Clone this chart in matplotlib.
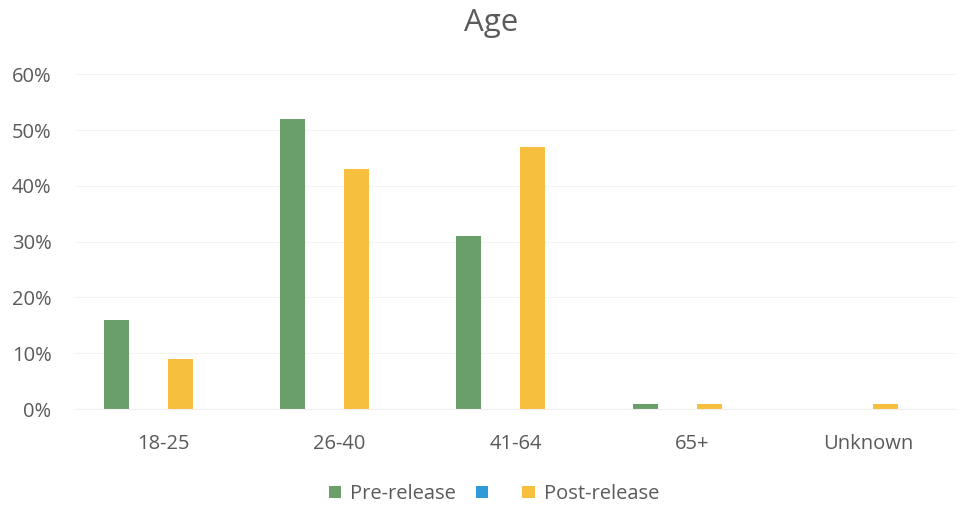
import matplotlib.pyplot as plt
import numpy as np

# age groups and share of respondents per release phase
categories = ["18-25", "26-40", "41-64", "65+", "Unknown"]
pre_release = [0.16, 0.52, 0.31, 0.01, 0.0]
blank_series = [0.0, 0.0, 0.0, 0.0, 0.0]
post_release = [0.09, 0.43, 0.47, 0.01, 0.01]
y_ticks = [0, 0.1, 0.2, 0.3, 0.4, 0.5, 0.6]

green = "#6a9f6b"
blue = "#2f9ad8"
orange = "#f6bf3e"
text_grey = "#5a5a5a"

plt.rcParams['font.family'] = ['Open Sans', 'DejaVu Sans']

fig = plt.figure(figsize=(9.76, 5.12), dpi=100)
ax = fig.add_axes([0.077, 0.201, 0.903, 0.654])

x = np.arange(len(categories))
width = 0.142
b1 = ax.bar(x - 0.267, pre_release, width, color=green)
b2 = ax.bar(x - 0.087, blank_series, width, color=blue)
b3 = ax.bar(x + 0.097, post_release, width, color=orange)

ax.set_xlim(-0.5, len(categories) - 0.5)
ax.set_ylim(0, 0.6)
ax.set_yticks(y_ticks)
ax.set_yticklabels([f"{int(round(t * 100))}%" for t in y_ticks])
ax.set_xticks(x)
ax.set_xticklabels(categories)

# faint gridlines
ax.grid(axis="y", color="#f3f3f3", linewidth=0.8)
ax.set_axisbelow(True)
for s in ["top", "right", "left"]:
    ax.spines[s].set_visible(False)
ax.spines["bottom"].set_color("#f0f0f0")
ax.tick_params(axis="both", length=0, colors=text_grey, labelsize=14.5)
ax.tick_params(axis="x", pad=18)
ax.tick_params(axis="y", pad=17)

fig.text(0.503, 0.955, "Age", ha="center", va="center", fontsize=22.5, color=text_grey)

fig.legend([b1, b2, b3], ["Pre-release", " ", "Post-release"],
           loc="center", bbox_to_anchor=(0.506, 0.035), ncol=3, frameon=False,
           fontsize=14.5, labelcolor=text_grey, handlelength=0.6, handleheight=0.6,
           handletextpad=0.45, columnspacing=1.0)

fig.savefig("out.png", dpi=100)
